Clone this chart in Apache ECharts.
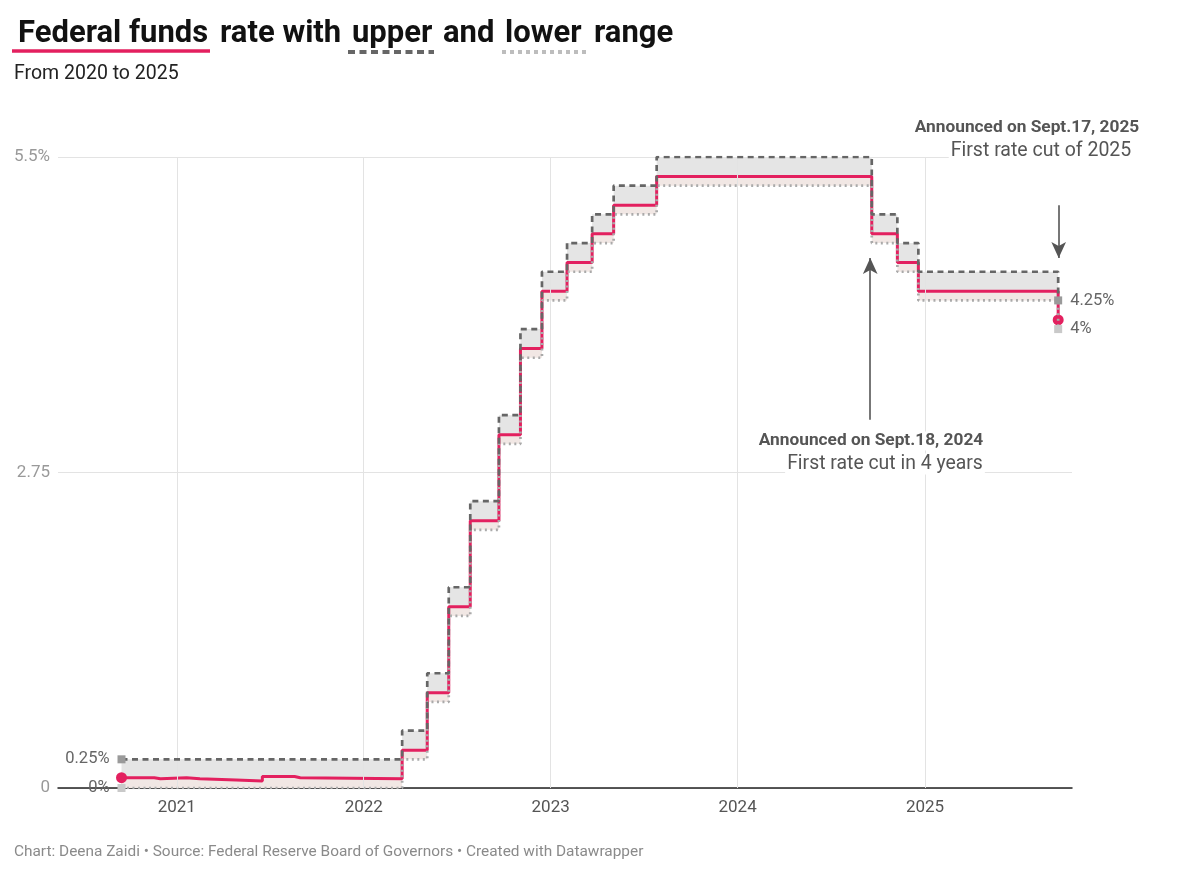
<!DOCTYPE html>
<html>
<head>
<meta charset="utf-8">
<script src="https://cdn.jsdelivr.net/npm/echarts@6/dist/echarts.min.js"></script>
<style>
html,body{margin:0;padding:0;background:#fff;}
#chart{width:1200px;height:876px;}
</style>
</head>
<body>
<div id="chart"></div>
<script>
// ---- Data ----
const boundDates = ['2020-09-15','2022-03-17','2022-05-05','2022-06-16','2022-07-28','2022-09-22','2022-11-03','2022-12-15','2023-02-02','2023-03-23','2023-05-04','2023-07-27','2024-09-19','2024-11-08','2024-12-19','2025-09-18'];
const lowerValues = [0,0.25,0.75,1.5,2.25,3.0,3.75,4.25,4.5,4.75,5.0,5.25,4.75,4.5,4.25,4.0];
const upperValues = [0.25,0.5,1.0,1.75,2.5,3.25,4.0,4.5,4.75,5.0,5.25,5.5,5.0,4.75,4.5,4.25];

const effDates = ['2020-09-15','2020-11-18','2020-11-30','2021-01-20','2021-02-15','2021-04-27','2021-06-17','2021-08-19','2021-08-30','2022-03-17','2022-05-05','2022-06-16','2022-07-28','2022-09-22','2022-11-03','2022-12-15','2023-02-02','2023-03-23','2023-05-04','2023-07-27','2024-09-19','2024-11-08','2024-12-19','2025-09-18'];
const effValues = [0.09,0.08,0.09,0.08,0.07,0.06,0.10,0.09,0.08,0.33,0.83,1.58,2.33,3.08,3.83,4.33,4.58,4.83,5.08,5.33,4.83,4.58,4.33,4.08];

const yearTicks = ['2021','2022','2023','2024','2025'];

const annotations = [
  {date:'2024-09-16', from:3.21, to:4.62, title:'Announced on Sept.18, 2024', sub:'First rate cut in 4 years'},
  {date:'2025-09-19', from:5.08, to:4.62, title:'Announced on Sept.17, 2025', sub:'First rate cut of 2025'}
];

// ---- helpers ----
const ts = s => Date.parse(s + 'T00:00:00Z');
function stepAt(dates, vals, d){
  let v = vals[0];
  for (let i=0;i<dates.length;i++){ if (ts(dates[i]) <= d) v = vals[i]; }
  return v;
}
const allDates = Array.from(new Set(boundDates.concat(effDates))).sort();
const baseData = [], band1 = [], band2 = [];
allDates.forEach(s=>{
  const d = ts(s);
  const lo = stepAt(boundDates, lowerValues, d);
  const up = stepAt(boundDates, upperValues, d);
  const ef = stepAt(effDates, effValues, d);
  baseData.push([d, lo]);
  band1.push([d, +(ef-lo).toFixed(4)]);
  band2.push([d, +(up-ef).toFixed(4)]);
});

function endpoints(dates, vals, sym, size, color, firstLabel, lastLabel){
  return dates.map((s,i)=>{
    const item = {value:[ts(s), vals[i]]};
    if (i===0 || i===dates.length-1){
      item.symbol = sym; item.symbolSize = size;
      item.itemStyle = {color:color};
      const txt = i===0 ? firstLabel : lastLabel;
      if (txt){
        item.label = {show:true, position: i===0?'left':'right', distance:8, formatter: txt,
          color:'#666', fontSize:16.5, fontFamily:'Roboto'};
      }
    }
    return item;
  });
}

const PINK = '#e3205f';
const chart = echarts.init(document.getElementById('chart'), null, {renderer:'canvas'});

const option = {
  animation:false,
  backgroundColor:'#fff',
  textStyle:{fontFamily:'Roboto'},
  grid:{left:58, right:128, top:157, bottom:88, containLabel:false},
  xAxis:{
    type:'time',
    min: ts('2020-05-14'), max: ts('2025-10-15'),
    axisLine:{show:true, lineStyle:{color:'#222', width:1.5}},
    axisTick:{show:false},
    axisLabel:{show:false},
    splitLine:{show:false}
  },
  yAxis:{
    type:'value', min:0, max:5.5, interval:2.75,
    axisLine:{show:false}, axisTick:{show:false},
    axisLabel:{formatter: v => v===5.5 ? '5.5%' : String(v), color:'#999', fontSize:17, margin:8, fontFamily:'Roboto'},
    splitLine:{show:true, lineStyle:{color:'#e3e3e3', width:1}}
  },
  series:[
    {name:'base', type:'line', stack:'band', step:'end', data:baseData, symbol:'none', lineStyle:{width:0}, silent:true, z:1,
      markLine:{silent:true, symbol:['none','none'], animation:false, emphasis:{disabled:true},
        lineStyle:{color:'#e3e3e3', width:1, type:'solid'},
        label:{show:true, position:'start', distance:11, color:'#555', fontSize:17, fontFamily:'Roboto'},
        data: yearTicks.map(y=>({xAxis: ts(y+'-01-01'), label:{formatter:y}}))}
    },
    {name:'effband', type:'line', stack:'band', step:'end', data:band1, symbol:'none', lineStyle:{width:0}, areaStyle:{color:'#f1e7e4', opacity:1}, silent:true, z:1},
    {name:'upband', type:'line', stack:'band', step:'end', data:band2, symbol:'none', lineStyle:{width:0}, areaStyle:{color:'#e5e5e5', opacity:1}, silent:true, z:1},
    {name:'Federal funds', type:'line', step:'end', data: endpoints(effDates, effValues, 'circle', 11, PINK, null, null),
      symbol:'none', showSymbol:true, showAllSymbol:true, lineStyle:{color:PINK, width:3}, itemStyle:{color:PINK}, z:3,
      markLine:{silent:true, symbol:['none','arrow'], symbolSize:[11,16], animation:false,
        lineStyle:{color:'#555', width:1.6, type:'solid'}, label:{show:false}, emphasis:{disabled:true},
        data: annotations.map(a=>[{coord:[ts(a.date), a.from]},{coord:[ts(a.date), a.to]}])}
    },
    {name:'lower', type:'line', step:'end', data: endpoints(boundDates, lowerValues, 'rect', 8, '#c9c9c9', '0%', '4%'),
      symbol:'none', showSymbol:true, showAllSymbol:true, lineStyle:{color:'#aaaaaa', width:2.7, type:[2,3.5]}, z:4},
    {name:'upper', type:'line', step:'end', data: endpoints(boundDates, upperValues, 'rect', 8, '#9a9a9a', '0.25%', '4.25%'),
      symbol:'none', showSymbol:true, showAllSymbol:true, lineStyle:{color:'#666666', width:2.7, type:[6,4.5]}, z:5}
  ],
  graphic:[
    {type:'text', left:18, top:19, style:{text:'Federal funds', font:'bold 31px Roboto', fill:'#111'}},
    {type:'text', left:220, top:19, style:{text:'rate with', font:'bold 31px Roboto', fill:'#111'}},
    {type:'text', left:352, top:19, style:{text:'upper', font:'bold 31px Roboto', fill:'#111'}},
    {type:'text', left:443, top:19, style:{text:'and', font:'bold 31px Roboto', fill:'#111'}},
    {type:'text', left:505, top:19, style:{text:'lower', font:'bold 31px Roboto', fill:'#111'}},
    {type:'text', left:594, top:19, style:{text:'range', font:'bold 31px Roboto', fill:'#111'}},
    {type:'line', shape:{x1:12, y1:51, x2:210, y2:51}, style:{stroke:PINK, lineWidth:3.5}},
    {type:'line', shape:{x1:348, y1:52, x2:434, y2:52}, style:{stroke:'#666', lineWidth:4, lineDash:[7,4.5]}},
    {type:'line', shape:{x1:502, y1:52, x2:586, y2:52}, style:{stroke:'#bdbdbd', lineWidth:4, lineDash:[4,4]}},
    {type:'text', left:14, top:64, style:{text:'From 2020 to 2025', font:'19.5px Roboto', fill:'#222'}},
    {type:'text', left:14, top:845, style:{text:'Chart: Deena Zaidi \u2022 Source: Federal Reserve Board of Governors \u2022 Created with Datawrapper', font:'15.4px Roboto', fill:'#8a8a8a'}},
    {type:'text', x:871, y:441, z:10, style:{text:annotations[0].title, font:'bold 17.3px Roboto', fill:'#555', align:'center', verticalAlign:'middle', backgroundColor:'#fff', padding:[1,2]}},
    {type:'text', x:885, y:464, z:10, style:{text:annotations[0].sub, font:'19.4px Roboto', fill:'#555', align:'center', verticalAlign:'middle', backgroundColor:'#fff', padding:[1,2]}},
    {type:'text', x:1027, y:128, z:10, style:{text:annotations[1].title, font:'bold 17.3px Roboto', fill:'#555', align:'center', verticalAlign:'middle', backgroundColor:'#fff', padding:[1,2]}},
    {type:'text', x:1041, y:151, z:10, style:{text:annotations[1].sub, font:'19.5px Roboto', fill:'#555', align:'center', verticalAlign:'middle', backgroundColor:'#fff', padding:[1,2]}}
  ]
};
chart.setOption(option);
</script>
</body>
</html>
